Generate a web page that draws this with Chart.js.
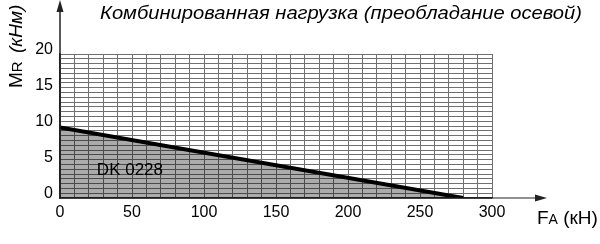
<!DOCTYPE html>
<html><head><meta charset="utf-8">
<script src="https://cdn.jsdelivr.net/npm/chart.js@4/dist/chart.umd.min.js"></script>
<style>html,body{margin:0;padding:0;background:#fff}canvas{display:block}</style>
</head><body>
<canvas id="c" width="600" height="244"></canvas>
<script>
// Data
const forceFA = [0, 280];          // kN
const momentMR = [9.8, 0];         // kNm
const xTickLabels = [0, 50, 100, 150, 200, 250, 300];
const yTickLabels = [0, 5, 10, 15, 20];
const titleText = 'Комбинированная нагрузка (преобладание осевой)';
const seriesName = 'DK 0228';

const GRID = '#707070';
const AXIS = '#222';

const deco = {
  id: 'deco',
  afterDraw(chart) {
    const ctx = chart.ctx, a = chart.chartArea;
    const xs = chart.scales.x, ys = chart.scales.y;
    ctx.save();
    // axis extensions + arrows
    ctx.strokeStyle = AXIS; ctx.fillStyle = AXIS;
    ctx.lineWidth = 1.5;
    ctx.beginPath(); ctx.moveTo(a.left, a.bottom); ctx.lineTo(a.left, 10); ctx.stroke();
    ctx.beginPath(); ctx.moveTo(a.left, 0); ctx.lineTo(a.left - 3.5, 12); ctx.lineTo(a.left + 3.5, 12); ctx.closePath(); ctx.fill();
    ctx.lineWidth = 1.2;
    ctx.beginPath(); ctx.moveTo(a.left, a.bottom); ctx.lineTo(537, a.bottom); ctx.stroke();
    ctx.beginPath(); ctx.moveTo(547, a.bottom); ctx.lineTo(535, a.bottom - 3.5); ctx.lineTo(535, a.bottom + 3.5); ctx.closePath(); ctx.fill();

    ctx.fillStyle = '#000';
    // title (slightly wide face in the original)
    ctx.save();
    ctx.font = 'italic 18px "Liberation Sans", Arial, sans-serif';
    ctx.textAlign = 'center'; ctx.textBaseline = 'alphabetic';
    ctx.translate(341, 19);
    ctx.scale(1.12, 1);
    ctx.fillText(titleText, 0, 0);
    ctx.restore();

    // series label inside fill
    ctx.font = '17px "Liberation Sans", Arial, sans-serif';
    ctx.textAlign = 'left'; ctx.textBaseline = 'alphabetic';
    ctx.fillText(seriesName, xs.getPixelForValue(25.6), ys.getPixelForValue(3.15));

    // x axis title: F_A (кН)
    let x = 537, yb = 224;
    ctx.font = '19px "Liberation Sans", Arial, sans-serif';
    ctx.fillText('F', x, yb); x += ctx.measureText('F').width;
    ctx.font = '14px "Liberation Sans", Arial, sans-serif';
    ctx.fillText('A', x, yb); x += ctx.measureText('A').width;
    ctx.font = '19px "Liberation Sans", Arial, sans-serif';
    ctx.fillText(' (кН)', x, yb);

    // y axis title: M_R (кНм), rotated
    ctx.save();
    ctx.translate(22, 88);
    ctx.rotate(-Math.PI / 2);
    let p = 0;
    ctx.font = '19px "Liberation Sans", Arial, sans-serif';
    ctx.fillText('M', p, 0); p += ctx.measureText('M').width;
    ctx.font = '15px "Liberation Sans", Arial, sans-serif';
    ctx.fillText('R', p, 0); p += ctx.measureText('R').width;
    ctx.font = 'italic 19px "Liberation Sans", Arial, sans-serif';
    ctx.fillText(' (кНм)', p + 3, 0);
    ctx.restore();
    ctx.restore();
  }
};

new Chart(document.getElementById('c'), {
  type: 'line',
  data: {
    datasets: [{
      label: seriesName,
      data: forceFA.map((v, i) => ({ x: v, y: momentMR[i] })),
      borderColor: '#000',
      borderWidth: 4,
      borderCapStyle: 'butt',
      backgroundColor: 'rgba(0,0,0,0.33)',
      fill: 'origin',
      pointRadius: 0,
      tension: 0
    }]
  },
  options: {
    responsive: false,
    devicePixelRatio: 1,
    animation: false,
    layout: { padding: { top: 54, right: 108, left: 0, bottom: 0 } },
    plugins: { legend: { display: false }, tooltip: { enabled: false }, title: { display: false } },
    scales: {
      x: {
        type: 'linear', min: 0, max: 300,
        afterFit(s) { s.height = 46; },
        ticks: {
          stepSize: 10, autoSkip: false, maxRotation: 0, padding: 5,
          color: '#000', font: { size: 16, family: '"Liberation Sans", Arial, sans-serif' },
          callback: v => xTickLabels.includes(v) ? String(v) : ''
        },
        grid: { color: GRID, lineWidth: 1, drawTicks: false },
        border: { display: true, color: AXIS, width: 1.2 }
      },
      y: {
        type: 'linear', min: 0, max: 20, position: 'left',
        afterFit(s) { s.width = 60; },
        ticks: {
          stepSize: 5, padding: 7, labelOffset: -4,
          color: '#000', font: { size: 16, family: '"Liberation Sans", Arial, sans-serif' },
          callback: v => yTickLabels.includes(v) ? String(v) : ''
        },
        grid: { display: false, drawTicks: false },
        border: { display: true, color: AXIS, width: 1.5 }
      },
      yg: {
        type: 'linear', min: 0, max: 30, position: 'right',
        afterFit(s) { s.width = 0; },
        ticks: { display: false, stepSize: 1 },
        grid: { color: GRID, lineWidth: 1, drawTicks: false },
        border: { display: false }
      }
    }
  },
  plugins: [deco]
});
</script>
</body></html>
